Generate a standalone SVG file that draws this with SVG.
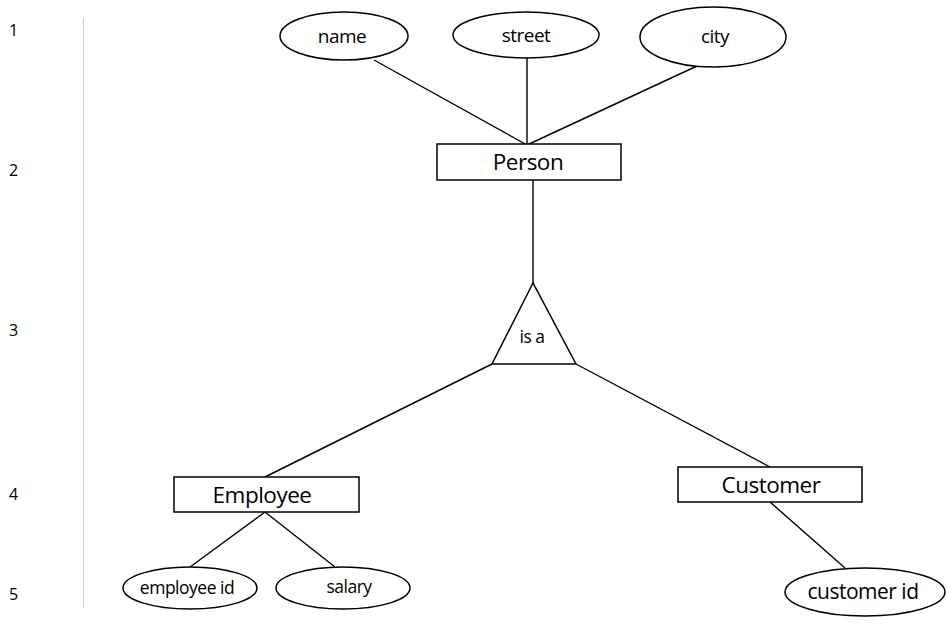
<svg xmlns="http://www.w3.org/2000/svg" width="947" height="624" viewBox="0 0 947 624">
<style>
.s{fill:#fff;stroke:#000;stroke-width:1.5}
.c line{stroke:#000;stroke-width:1.4}
text{font-family:"Open Sans","Noto Sans",sans-serif;fill:#000;text-anchor:middle;dominant-baseline:central}
.n{font-size:16px;text-anchor:start}
.a{font-size:19px;letter-spacing:-0.5px}
.e{font-size:22.5px;letter-spacing:-0.5px}
.sm{font-size:17.5px;letter-spacing:-0.5px}
.ci{font-size:21px;letter-spacing:-0.5px}
</style>
<rect width="947" height="624" fill="#fff"/>
<g id="ruler">
<line x1="83.5" y1="18" x2="83.5" y2="608" stroke="#ccc" stroke-width="1"/>
<text class="n" x="9" y="30">1</text>
<text class="n" x="9" y="170">2</text>
<text class="n" x="9" y="330">3</text>
<text class="n" x="9" y="494">4</text>
<text class="n" x="9" y="594">5</text>
</g>
<g class="c" id="connectors">
<line x1="374" y1="60" x2="527" y2="145"/>
<line x1="527" y1="58" x2="527" y2="145"/>
<line x1="697" y1="66" x2="527" y2="145"/>
<line x1="533" y1="180" x2="533" y2="283"/>
<line x1="492" y1="364" x2="265" y2="477"/>
<line x1="576" y1="364" x2="770" y2="467"/>
<line x1="265" y1="512" x2="190" y2="567"/>
<line x1="265" y1="512" x2="335" y2="567"/>
<line x1="770" y1="502" x2="845" y2="568"/>
</g>
<g id="name"><ellipse class="s" cx="344" cy="36" rx="64" ry="24"/><text class="a" x="342" y="36">name</text></g>
<g id="street"><ellipse class="s" cx="526" cy="35" rx="73" ry="23"/><text class="a" x="526" y="35">street</text></g>
<g id="city"><ellipse class="s" cx="713" cy="37" rx="73" ry="30"/><text class="a" x="715" y="36">city</text></g>
<g id="person"><rect class="s" x="437" y="144" width="184" height="36"/><text class="e" x="528" y="161">Person</text></g>
<g id="isa"><polygon class="s" points="533,283 492,364 576,364"/><text class="sm" x="532" y="336">is a</text></g>
<g id="employee"><rect class="s" x="174" y="477" width="185" height="35"/><text class="e" x="262" y="494">Employee</text></g>
<g id="customer"><rect class="s" x="678" y="467" width="184" height="35"/><text class="e" x="771" y="484">Customer</text></g>
<g id="employee_id"><ellipse class="s" cx="190" cy="588" rx="67" ry="21"/><text class="sm" x="187" y="587">employee id</text></g>
<g id="salary"><ellipse class="s" cx="343" cy="588" rx="67" ry="21"/><text class="sm" x="349" y="586">salary</text></g>
<g id="customer_id"><ellipse class="s" cx="865" cy="592" rx="80" ry="24"/><text class="ci" x="863" y="591">customer id</text></g>
</svg>
